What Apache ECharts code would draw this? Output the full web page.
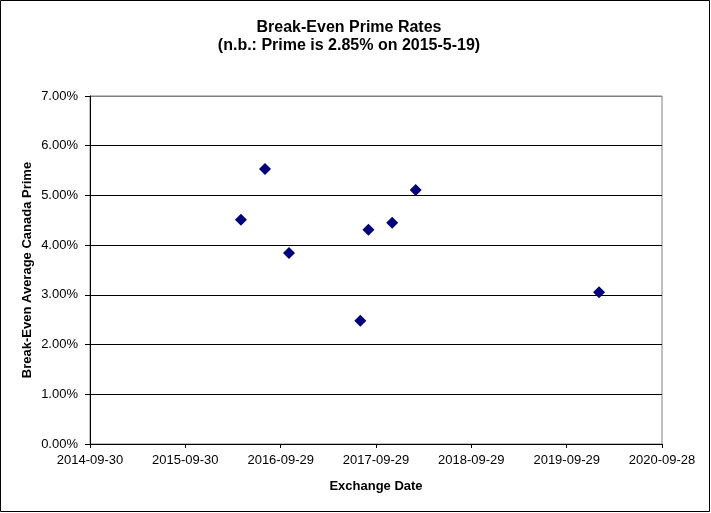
<!DOCTYPE html>
<html>
<head>
<meta charset="utf-8">
<script src="https://cdn.jsdelivr.net/npm/echarts@6/dist/echarts.min.js"></script>
<style>
html,body{margin:0;padding:0;background:#fff;}
#chart{width:711px;height:513px;}
</style>
</head>
<body>
<div id="chart"></div>
<script>
// Data
var exchangeDates = ['2016-04-30','2016-07-31','2016-10-31','2017-07-31','2017-08-31','2017-11-30','2018-02-28','2020-01-31'];
var breakEvenPrime = [4.51, 5.53, 3.84, 2.48, 4.31, 4.45, 5.11, 3.05];
var xTickStart = '2014-09-30';
var xTickStepDays = 365;
var xTickCount = 6;
var yTicks = [0, 1, 2, 3, 4, 5, 6, 7];

var FONT = 'Arial, "Liberation Sans", sans-serif';
function toUTC(s){ var p = s.split('-'); return Date.UTC(+p[0], +p[1]-1, +p[2]); }
var base = toUTC(xTickStart);
function dayOffset(s){ return Math.round((toUTC(s) - base) / 86400000); }
function offsetToLabel(d){
  var dt = new Date(base + d * 86400000);
  var m = dt.getUTCMonth()+1, day = dt.getUTCDate();
  return dt.getUTCFullYear() + '-' + (m<10?'0':'') + m + '-' + (day<10?'0':'') + day;
}
var points = exchangeDates.map(function(d,i){ return [dayOffset(d), breakEvenPrime[i]]; });

var chart = echarts.init(document.getElementById('chart'), null, {renderer:'canvas'});
var splitColors = yTicks.map(function(v,i){ return i === yTicks.length-1 ? '#808080' : '#000000'; });
chart.setOption({
  animation: false,
  backgroundColor: '#ffffff',
  textStyle: {fontFamily: FONT},
  title: [
    {text: 'Break-Even Prime Rates', left: 349, textAlign: 'center', top: 20, padding: 0,
     textStyle: {fontFamily: FONT, fontSize: 16, fontWeight: 'bold', color: '#000'}},
    {text: '(n.b.: Prime is 2.85% on 2015-5-19)', left: 349, textAlign: 'center', top: 38, padding: 0,
     textStyle: {fontFamily: FONT, fontSize: 16, fontWeight: 'bold', color: '#000'}}
  ],
  grid: {left: 90, right: 49, top: 96, bottom: 69, show: true, borderColor: '#808080', borderWidth: 1,
         backgroundColor: '#ffffff', outerBoundsMode: 'none', containLabel: false},
  xAxis: {
    type: 'value', min: 0, max: xTickStepDays * xTickCount, interval: xTickStepDays,
    name: 'Exchange Date', nameLocation: 'middle', nameGap: 36, nameMoveOverlap: false,
    nameTextStyle: {fontFamily: FONT, fontSize: 13, fontWeight: 'bold', color: '#000'},
    axisLine: {lineStyle: {color: '#000', width: 1}},
    axisTick: {show: true, length: 4, lineStyle: {color: '#000'}},
    axisLabel: {fontFamily: FONT, fontSize: 13, color: '#000', margin: 10, formatter: function(v){ return offsetToLabel(v); }},
    splitLine: {show: false}
  },
  yAxis: {
    type: 'value', min: yTicks[0], max: yTicks[yTicks.length-1], interval: 1,
    name: 'Break-Even Average Canada Prime', nameLocation: 'middle', nameGap: 56, nameRotate: 90, nameMoveOverlap: false,
    nameTextStyle: {fontFamily: FONT, fontSize: 13, fontWeight: 'bold', color: '#000'},
    axisLine: {show: true, lineStyle: {color: '#000', width: 1}},
    axisTick: {show: true, length: 5, lineStyle: {color: '#000'}},
    axisLabel: {fontFamily: FONT, fontSize: 13, color: '#000', margin: 12, formatter: function(v){ return v.toFixed(2) + '%'; }},
    splitLine: {show: true, lineStyle: {color: splitColors, width: 1}}
  },
  graphic: [{type: 'rect', shape: {x: 0.5, y: 0.5, width: 709, height: 511}, style: {fill: 'none', stroke: '#000', lineWidth: 1}, z: 100}],
  series: [{
    type: 'scatter', data: points, symbol: 'diamond', symbolSize: 12,
    itemStyle: {color: '#000080', opacity: 1}
  }]
});
</script>
</body>
</html>
